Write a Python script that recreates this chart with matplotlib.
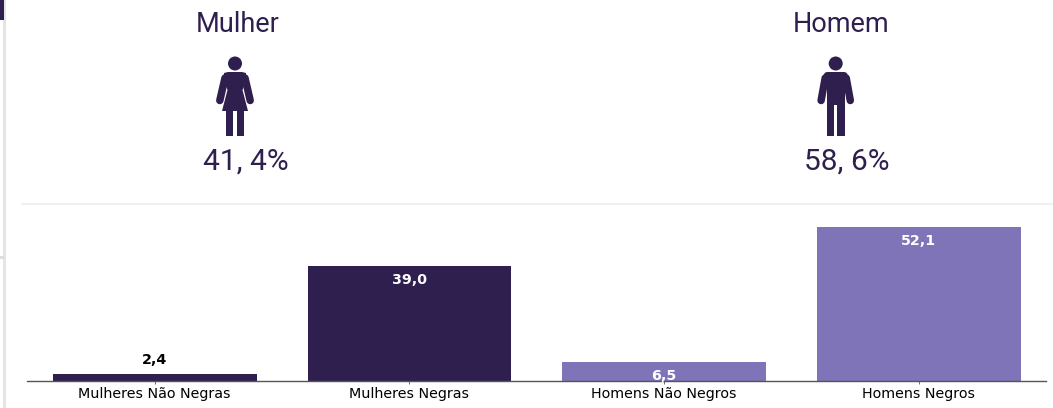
import matplotlib
matplotlib.use("Agg")
import matplotlib.pyplot as plt
from matplotlib.patches import Circle, FancyBboxPatch, Polygon, Rectangle

W, H = 1053, 408
categories = ["Mulheres Não Negras", "Mulheres Negras", "Homens Não Negros", "Homens Negros"]
values = [2.4, 39.0, 6.5, 52.1]
value_labels = ["2,4", "39,0", "6,5", "52,1"]
bar_colors = ["#2e1f4f", "#2e1f4f", "#7f74b8", "#7f74b8"]
label_colors = ["black", "white", "white", "white"]
DARK = "#2e1f4f"

fig = plt.figure(figsize=(W / 100, H / 100), dpi=100, facecolor="white")
ax = fig.add_axes([27.4 / W, (H - 381) / H, (1046.0 - 27.4) / W, 170 / H])
ax.bar(range(4), values, width=0.8, color=bar_colors)
ax.set_xlim(-0.5, 3.5)
ax.set_ylim(0, 170 / 2.956)
ax.set_yticks([])
ax.set_xticks(range(4), categories, fontsize=10.3, color="black")
ax.tick_params(axis="x", length=2, width=0.6, color="#555555", pad=2.2)
for s in ("top", "left", "right"):
    ax.spines[s].set_visible(False)
ax.spines["bottom"].set_color("#555555")
ax.spines["bottom"].set_linewidth(1)
ax.patch.set_alpha(0)
for i, (v, lab, c) in enumerate(zip(values, value_labels, label_colors)):
    if v < 5:
        ax.annotate(lab, (i, v), xytext=(0, 5), textcoords="offset points", ha="center",
                    va="bottom", fontsize=10.3, fontweight="bold", color=c)
    else:
        ax.annotate(lab, (i, v), xytext=(0, -5), textcoords="offset points", ha="center",
                    va="top", fontsize=10.3, fontweight="bold", color=c)

# overlay in pixel coordinates for page furniture and pictograms
ov = fig.add_axes([0, 0, 1, 1], zorder=5)
ov.set_xlim(0, W)
ov.set_ylim(H, 0)
ov.axis("off")
ov.patch.set_alpha(0)

ov.add_patch(Rectangle((21, 203), W - 21, 2.2, color="#f0f0f0", lw=0))
ov.add_patch(Rectangle((3.3, 0), 2.2, H, color="#e4e4e4", lw=0))
ov.add_patch(Rectangle((0, 256), 4, 3, color="#dddddd", lw=0))
ov.add_patch(Rectangle((0, 0), 3.5, 20, color=DARK, lw=0))

def round_bar(x0, y0, x1, y1, w):
    ov.plot([x0, x1], [y0, y1], color=DARK, lw=w * 72 / 100, solid_capstyle="round")

def woman(cx):
    ov.add_patch(Circle((cx, 63.5), 7, color=DARK, lw=0))
    ov.add_patch(Polygon([(cx - 11, 73), (cx - 7, 72), (cx + 7, 72), (cx + 11, 73), (cx + 11, 80), (cx + 7.5, 90), (cx + 13, 111),
                          (cx - 13, 111), (cx - 7.5, 90), (cx - 11, 80)], closed=True, color=DARK, lw=0))
    round_bar(cx - 10, 78, cx - 15.2, 100.5, 7.5)
    round_bar(cx + 10, 78, cx + 15.2, 100.5, 7.5)
    ov.add_patch(Rectangle((cx - 9, 110), 7, 26, color=DARK, lw=0))
    ov.add_patch(Rectangle((cx + 2, 110), 7, 26, color=DARK, lw=0))

def man(cx):
    ov.add_patch(Circle((cx, 63.5), 7, color=DARK, lw=0))
    ov.add_patch(FancyBboxPatch((cx - 12, 72), 24, 12, boxstyle="round,pad=0,rounding_size=4", color=DARK, lw=0))
    ov.add_patch(Rectangle((cx - 9, 78), 18, 27, color=DARK, lw=0))
    round_bar(cx - 10.5, 78, cx - 14.6, 100.5, 7.5)
    round_bar(cx + 10.5, 78, cx + 14.6, 100.5, 7.5)
    ov.add_patch(Rectangle((cx - 9, 100), 7.5, 36, color=DARK, lw=0))
    ov.add_patch(Rectangle((cx + 1.5, 100), 7.5, 36, color=DARK, lw=0))

woman(235)
man(835.7)

for x, y, s, fs in [(238, 32, "Mulher", 19.5), (841, 32, "Homem", 19.5), (246, 170, "41, 4%", 21.5), (847, 170, "58, 6%", 21.5)]:
    ov.text(x, y, s, ha="center", va="baseline", fontsize=fs, color=DARK, family="Roboto")

fig.savefig("out.png", dpi=100)
